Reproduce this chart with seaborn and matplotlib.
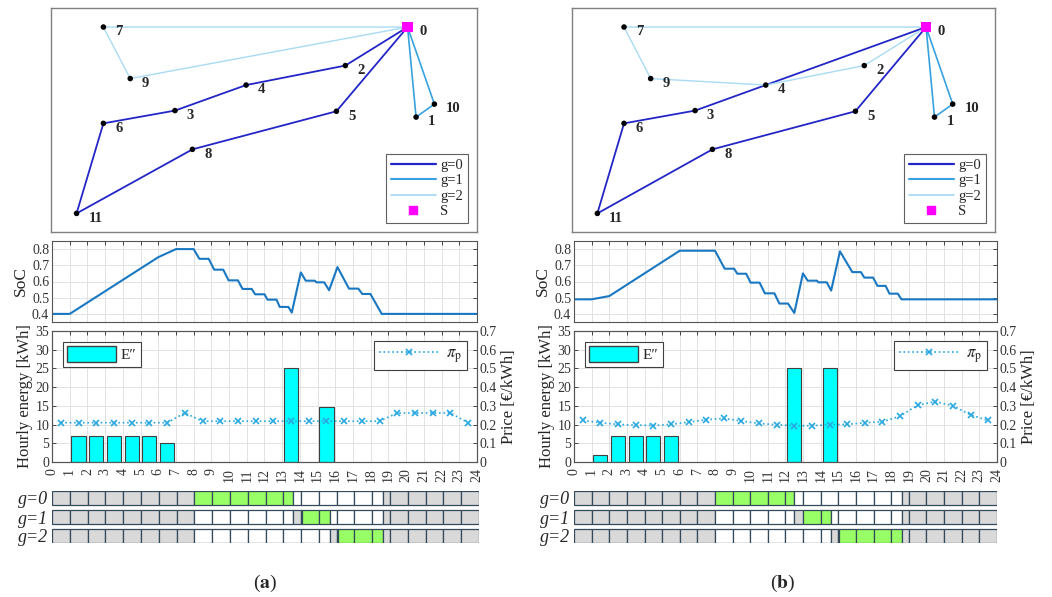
import numpy as np
import pandas as pd
import matplotlib
matplotlib.use("Agg")
import matplotlib.pyplot as plt
import seaborn as sns
from matplotlib.lines import Line2D
from matplotlib.patches import Patch

# ---------------- data ----------------
node_labels = ["0", "1", "2", "3", "4", "5", "6", "7", "8", "9", "10", "11"]
node_x = [83.7, 85.7, 69.1, 29.1, 45.8, 67.0, 12.3, 12.3, 33.2, 18.6, 90.0, 6.0]
node_y = [91.5, 51.3, 74.3, 54.2, 65.6, 53.9, 48.5, 91.5, 36.9, 68.5, 57.1, 8.3]

route_a_g0 = [0, 2, 4, 3, 6, 11, 8, 5, 0]
route_a_g1 = [0, 1, 10, 0]
route_a_g2 = [0, 7, 9, 0]
route_b_g0 = [0, 4, 3, 6, 11, 8, 5, 0]
route_b_g1 = [0, 1, 10, 0]
route_b_g2 = [0, 7, 9, 4, 2, 0]

soc_a_t = [0, 1, 6, 7, 8.0, 8.32, 8.85, 9.16, 9.67, 9.97, 10.5, 10.76, 11.28, 11.47, 12.0,
           12.17, 12.68, 12.86, 13.35, 13.54, 14.05, 14.33, 14.84, 14.93, 15.37, 15.65,
           16.12, 16.77, 17.3, 17.52, 17.98, 18.62, 24]
soc_a_v = [0.40, 0.40, 0.75, 0.80, 0.80, 0.74, 0.74, 0.673, 0.673, 0.607, 0.607, 0.554, 0.554,
           0.521, 0.521, 0.488, 0.488, 0.443, 0.443, 0.408, 0.656, 0.605, 0.605, 0.595, 0.595,
           0.546, 0.689, 0.556, 0.556, 0.523, 0.523, 0.40, 0.40]
soc_b_t = [0, 1, 2, 6, 8.0, 8.55, 9.08, 9.27, 9.77, 10.02, 10.53, 10.83, 11.37, 11.65, 12.14,
           12.5, 12.99, 13.26, 13.78, 13.87, 14.34, 14.59, 15.09, 15.79, 16.28, 16.47, 16.97,
           17.22, 17.68, 17.9, 18.37, 18.58, 24]
soc_b_v = [0.49, 0.49, 0.51, 0.79, 0.79, 0.679, 0.679, 0.648, 0.648, 0.593, 0.593, 0.527,
           0.527, 0.464, 0.464, 0.406, 0.65, 0.605, 0.605, 0.595, 0.595, 0.544, 0.786, 0.658,
           0.658, 0.624, 0.624, 0.573, 0.573, 0.525, 0.525, 0.49, 0.49]

hour_ticks = list(range(25))
price_hours = [0.5, 1.5, 2.5, 3.5, 4.5, 5.5, 6.5, 7.5, 8.5, 9.5, 10.5, 11.5,
               12.5, 13.5, 14.5, 15.5, 16.5, 17.5, 18.5, 19.5, 20.5, 21.5, 22.5, 23.5]
price_a = [0.21, 0.21, 0.21, 0.21, 0.21, 0.21, 0.21, 0.262, 0.218, 0.218, 0.218, 0.218,
           0.218, 0.218, 0.218, 0.218, 0.218, 0.218, 0.218, 0.262, 0.262, 0.262, 0.262, 0.21]
price_b = [0.222, 0.210, 0.201, 0.197, 0.195, 0.201, 0.213, 0.226, 0.233, 0.219, 0.206, 0.199,
           0.194, 0.194, 0.199, 0.201, 0.210, 0.215, 0.245, 0.304, 0.323, 0.300, 0.252, 0.222]

energy_a_hours = [1.5, 2.5, 3.5, 4.5, 5.5, 6.5, 13.5, 15.5]
energy_a = [7, 7, 7, 7, 7, 5, 25, 14.7]
energy_b_hours = [1.5, 2.5, 3.5, 4.5, 5.5, 12.5, 14.5]
energy_b = [2, 7, 7, 7, 7, 25, 25]

vehicle_labels = ["g=0", "g=1", "g=2"]
sched_a_g0 = [(0, 8, "off"), (8, 13.54, "drive"), (13.54, 18.62, "free"), (18.62, 24, "off")]
sched_a_g1 = [(0, 8, "off"), (8, 13.54, "free"), (13.54, 14.05, "charge"), (14.05, 15.65, "drive"),
              (15.65, 18.62, "free"), (18.62, 24, "off")]
sched_a_g2 = [(0, 8, "off"), (8, 15.65, "free"), (15.65, 16.08, "charge"), (16.08, 18.62, "drive"),
              (18.62, 24, "off")]
sched_b_g0 = [(0, 8, "off"), (8, 12.5, "drive"), (12.5, 18.62, "free"), (18.62, 24, "off")]
sched_b_g1 = [(0, 8, "off"), (8, 12.5, "free"), (12.5, 13.0, "charge"), (13.0, 14.6, "drive"),
              (14.6, 18.62, "free"), (18.62, 24, "off")]
sched_b_g2 = [(0, 8, "off"), (8, 14.6, "free"), (14.6, 15.05, "charge"), (15.05, 18.62, "drive"),
              (18.62, 24, "off")]

# ---------------- style ----------------
sns.set_style("white")
plt.rcParams["font.family"] = ["Liberation Serif", "DejaVu Serif"]
plt.rcParams["mathtext.fontset"] = "stix"

route_colors = ["#2326c6", "#38a2e0", "#a9dbf4"]
route_lw = [1.3, 1.2, 1.0]
state_colors = {"off": "#d9d9d9", "charge": "#d9d9d9", "drive": "#99ff66", "free": "#ffffff"}
soc_color = "#1a78c2"
price_color = "#2aa8e0"
frame_col = "#555555"
grid_col = "#e2e2e2"

W, H = 1052, 597
fig = plt.figure(figsize=(W / 100, H / 100), dpi=100)


def ax_at(x0, x1, y0, y1):
    return fig.add_axes([x0 / W, 1 - y1 / H, (x1 - x0) / W, (y1 - y0) / H])


def draw_map(ax, routes):
    for g, r in enumerate(routes):
        xs = [node_x[i] for i in r]
        ys = [node_y[i] for i in r]
        sns.lineplot(x=xs, y=ys, sort=False, estimator=None, color=route_colors[g],
                     lw=route_lw[g], ax=ax, zorder=2)
    sns.scatterplot(x=node_x[1:], y=node_y[1:], color="black", s=16, edgecolor="none",
                    ax=ax, zorder=3)
    sns.scatterplot(x=[node_x[0]], y=[node_y[0]], color="#ff00ff", marker="s", s=60,
                    edgecolor="none", ax=ax, zorder=4)
    for lab, x, y in zip(node_labels, node_x, node_y):
        ax.annotate(lab, (x, y), xytext=(8.5, -3.5), textcoords="offset points",
                    ha="left", va="center", fontsize=10.5, fontweight="bold")
    ax.set_xlim(0, 100)
    ax.set_ylim(0, 100)
    ax.set_xticks([])
    ax.set_yticks([])
    for s in ax.spines.values():
        s.set_color("#808080")
        s.set_linewidth(1.0)
    handles = [Line2D([], [], color=route_colors[g], lw=route_lw[g] + 0.3) for g in range(3)]
    handles.append(Line2D([], [], color="#ff00ff", marker="s", ls="none", markersize=6))
    leg = ax.legend(handles, ["g=0", "g=1", "g=2", "S"], loc="lower right", fontsize=10.5,
                    handlelength=3.1, labelspacing=0.15, borderpad=0.35, handletextpad=0.3,
                    fancybox=False, framealpha=1, borderaxespad=0.6)
    leg.get_frame().set_edgecolor("#606060")
    leg.get_frame().set_linewidth(0.8)


def style_frame(ax):
    for s in ax.spines.values():
        s.set_color(frame_col)
        s.set_linewidth(0.8)


def draw_soc(ax, t, v):
    sns.lineplot(x=t, y=v, sort=False, estimator=None, color=soc_color, lw=1.5, ax=ax)
    ax.set_xlim(0, 24)
    ax.set_ylim(0.35, 0.85)
    ax.set_xticks(hour_ticks)
    ax.set_xticklabels([])
    ax.set_yticks([0.4, 0.5, 0.6, 0.7, 0.8])
    ax.set_yticklabels(["0.4", "0.5", "0.6", "0.7", "0.8"])
    ax.grid(True, color=grid_col, lw=0.7)
    ax.set_axisbelow(True)
    ax.tick_params(direction="in", top=True, right=True, length=3, width=0.7,
                   color="#444444", labelsize=10, pad=2, labelcolor="#333333")
    ax.set_ylabel("SoC", fontsize=12.5, labelpad=2)
    ax.set_xlabel("")
    style_frame(ax)


def draw_energy(ax, bx, by, ph, pv):
    sns.barplot(x=bx, y=by, native_scale=True, ax=ax, color="#00ffff", saturation=1,
                edgecolor="#404040", linewidth=0.8, width=0.8, errorbar=None, zorder=2)
    ax.set_xlim(0, 24)
    ax.set_ylim(0, 35)
    ax.set_xticks(hour_ticks)
    ax.set_xticklabels([str(h) for h in hour_ticks], rotation=90)
    ax.set_yticks([0, 5, 10, 15, 20, 25, 30, 35])
    ax.grid(True, color=grid_col, lw=0.7)
    ax.set_axisbelow(True)
    ax.tick_params(direction="in", top=True, length=3, width=0.7, color="#444444",
                   labelsize=10, pad=2, labelcolor="#333333")
    ax.tick_params(axis="x", pad=4.5)
    ax.set_ylabel("Hourly energy [kWh]", fontsize=12, labelpad=2)
    ax.set_xlabel("")
    style_frame(ax)
    leg = ax.legend([Patch(facecolor="#00ffff", edgecolor="#404040")], ["E\u2033"],
                    loc="upper left", fontsize=11, handlelength=3.2, handleheight=1.2,
                    fancybox=False, framealpha=1, borderaxespad=0.7, borderpad=0.3,
                    handletextpad=0.3)
    leg.get_frame().set_edgecolor("#404040")
    leg.get_frame().set_linewidth(0.8)

    ax2 = ax.twinx()
    sns.lineplot(x=ph, y=pv, ax=ax2, color=price_color, lw=1.2, linestyle=":", marker="x",
                 markersize=4.5, markeredgewidth=1.2, markeredgecolor=price_color,
                 sort=False, estimator=None)
    ax2.set_ylim(0, 0.7)
    ax2.set_yticks([0, 0.1, 0.2, 0.3, 0.4, 0.5, 0.6, 0.7])
    ax2.set_yticklabels(["0", "0.1", "0.2", "0.3", "0.4", "0.5", "0.6", "0.7"])
    ax2.tick_params(direction="in", length=3, width=0.7, color="#444444", labelsize=10,
                    pad=2, labelcolor="#333333")
    ax2.set_ylabel("Price [\u20ac/kWh]", fontsize=12, labelpad=3)
    ax2.set_xlim(0, 24)
    style_frame(ax2)
    h2 = Line2D([], [], color=price_color, lw=1.2, ls=":", marker="x", markersize=4.5,
                markeredgewidth=1.2)
    leg2 = ax2.legend([h2], [r"$\pi_{\mathrm{p}}$"], loc="upper right", fontsize=12,
                      handlelength=3.6, fancybox=False, framealpha=1, borderaxespad=0.6,
                      borderpad=0.3, handletextpad=0.4)
    leg2.get_frame().set_edgecolor("#404040")
    leg2.get_frame().set_linewidth(0.8)


def draw_sched(ax, rows):
    for r, segs in enumerate(rows):
        lefts, widths, cols = [], [], []
        for (a, b, st) in segs:
            cuts = [a] + [h for h in hour_ticks if a < h < b] + [b]
            for c0, c1 in zip(cuts[:-1], cuts[1:]):
                lefts.append(c0)
                widths.append(c1 - c0)
                cols.append(state_colors[st])
        ax.barh([r] * len(lefts), widths, left=lefts, height=14 / 19, color=cols,
                edgecolor="#34495a", linewidth=0.9)
    ax.set_xlim(0, 24)
    ax.set_ylim(2 + 7 / 19, -7 / 19)
    ax.set_xticks([])
    ax.set_yticks([0, 1, 2])
    ax.set_yticklabels(vehicle_labels, fontsize=13, fontstyle="italic")
    ax.tick_params(axis="y", length=0, pad=3)
    for s in ax.spines.values():
        s.set_visible(False)


# ---------------- left (a) ----------------
ax_map_a = ax_at(51, 477, 8, 232)
draw_map(ax_map_a, [route_a_g0, route_a_g1, route_a_g2])
ax_soc_a = ax_at(52, 477, 241, 322)
draw_soc(ax_soc_a, soc_a_t, soc_a_v)
ax_en_a = ax_at(52, 477, 331, 462)
draw_energy(ax_en_a, energy_a_hours, energy_a, price_hours, price_a)
ax_sc_a = ax_at(52, 479, 491, 543)
draw_sched(ax_sc_a, [sched_a_g0, sched_a_g1, sched_a_g2])

# ---------------- right (b) ----------------
ax_map_b = ax_at(572, 995, 8, 232)
draw_map(ax_map_b, [route_b_g0, route_b_g1, route_b_g2])
ax_soc_b = ax_at(574, 997, 241, 322)
draw_soc(ax_soc_b, soc_b_t, soc_b_v)
ax_en_b = ax_at(574, 997, 331, 462)
draw_energy(ax_en_b, energy_b_hours, energy_b, price_hours, price_b)
ax_sc_b = ax_at(574, 997, 491, 543)
draw_sched(ax_sc_b, [sched_b_g0, sched_b_g1, sched_b_g2])

fig.text(265 / W, 1 - 583 / H, r"($\mathbf{a}$)", ha="center", va="center", fontsize=14)
fig.text(783 / W, 1 - 583 / H, r"($\mathbf{b}$)", ha="center", va="center", fontsize=14)

fig.savefig("out.png", dpi=100)
